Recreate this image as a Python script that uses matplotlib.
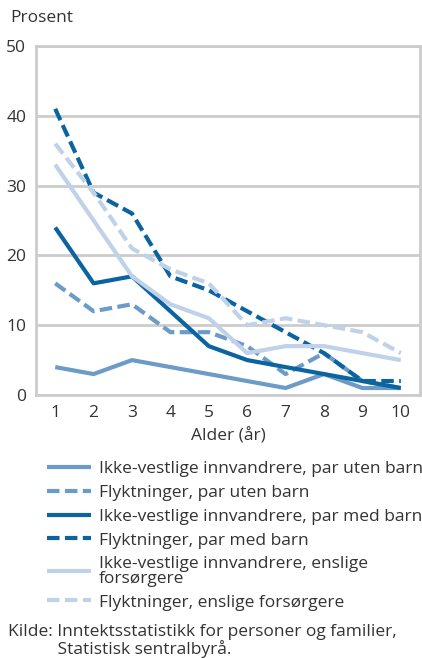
import numpy as np
import matplotlib.pyplot as plt

plt.rcParams['font.family'] = ['Open Sans', 'DejaVu Sans']

alder = [1, 2, 3, 4, 5, 6, 7, 8, 9, 10]

iv_uten = [4, 3, 5, 4, 3, 2, 1, 3, 1, 1]
fl_uten = [16, 12, 13, 9, 9, 7, 3, 6, 2, 1]
iv_med = [24, 16, 17, 12, 7, 5, 4, 3, 2, 1]
fl_med = [41, 29, 26, 17, 15, 12, 9, 6, 2, 2]
iv_ensl = [33, 25, 17, 13, 11, 6, 7, 7, 6, 5]
fl_ensl = [36, 29, 21, 18, 16, 10, 11, 10, 9, 6]

labels = ["Ikke-vestlige innvandrere, par uten barn",
          "Flyktninger, par uten barn",
          "Ikke-vestlige innvandrere, par med barn",
          "Flyktninger, par med barn",
          "Ikke-vestlige innvandrere, enslige\nforsørgere",
          "Flyktninger, enslige forsørgere"]

dark = '#0b64a0'
mid = '#6c9bc8'
light = '#bfd2e9'
grid_c = '#cccccc'
txt_c = '#333333'

fig = plt.figure(figsize=(4.22, 6.58), dpi=100)
ax = fig.add_axes([36/422, 1-395/658, (420-36)/422, (395-46)/658])

series = [(iv_uten, mid, '-'), (fl_uten, mid, '--'),
          (iv_med, dark, '-'), (fl_med, dark, '--'),
          (iv_ensl, light, '-'), (fl_ensl, light, '--')]
# draw light ones first so dark sit on top
order = [4, 5, 0, 1, 2, 3]
lines = [None]*6
for i in order:
    vals, c, ls = series[i]
    ln, = ax.plot(alder, vals, color=c, lw=3, solid_capstyle='butt', zorder=3+i)
    if ls == '--':
        ln.set_dashes((3, 1.3))
    lines[i] = ln

ax.set_xlim(0.5, 10.5)
ax.set_ylim(0, 50)
ax.set_xticks(alder)
ax.set_yticks([0, 10, 20, 30, 40, 50])
ax.set_xticks([1, 4, 7, 10], minor=True)
ax.grid(False)
ax.grid(True, which='minor', axis='x', color=grid_c, lw=2)
ax.grid(True, which='major', axis='y', color=grid_c, lw=2)
ax.set_axisbelow(True)
for s in ax.spines.values():
    s.set_color(grid_c)
    s.set_linewidth(2)
ax.tick_params(which='both', length=0, labelsize=12.5, colors=txt_c, pad=7)
ax.tick_params(which='minor', labelbottom=False)
ax.set_xlabel("Alder (år)", fontsize=12.5, color=txt_c, labelpad=5)
fig.text(10/422, 1-18/658, "Prosent", fontsize=12.5, color=txt_c, va='center')

leg = fig.legend(lines, labels, loc='upper left', bbox_to_anchor=(47/422, 1-461/658),
                 frameon=False, fontsize=12.5, handlelength=2.55, handletextpad=0.45,
                 labelspacing=0.44, borderaxespad=0, borderpad=0)
for t in leg.get_texts():
    t.set_color(txt_c)
    t.set_linespacing(0.88)

fig.text(8/422, 1-641/658, "Kilde: Inntektsstatistikk for personer og familier,\n"
         "           Statistisk sentralbyrå.", fontsize=12.5, color=txt_c, va='center',
         linespacing=1.0)

fig.savefig('out.png', dpi=100)
